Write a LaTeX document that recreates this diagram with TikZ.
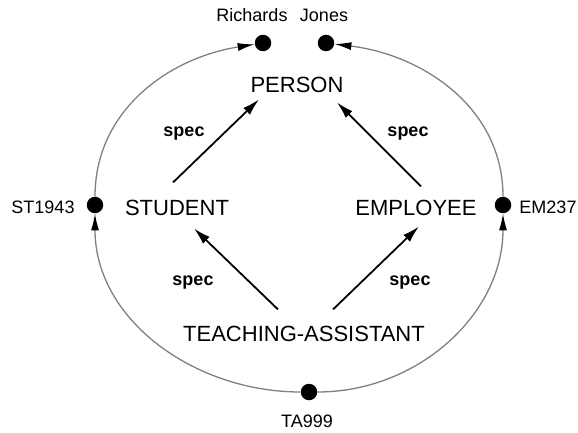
\documentclass[tikz,border=0pt]{standalone}
\usepackage{fontspec}
\setmainfont{Liberation Sans}
\usetikzlibrary{%
    shapes,%
    arrows.meta,%
    positioning,%
    calc%
}
\tikzset{
    class/.style = {inner sep = 2pt, font = \fontsize{22}{26}\selectfont},
    inst/.style = {circle, fill = black, inner sep = 0pt, minimum size = 16.5pt},
    instlabel/.style = {inner sep = 0pt, anchor = base, font = \fontsize{18}{21}\selectfont},
    speclabel/.style = {inner sep = 0pt, anchor = base, font = \fontsize{18}{21}\selectfont\bfseries},
    spec/.style = {draw = black, line width = 1.8pt, -{Latex[length = 17pt, width = 9.5pt]}},
    link/.style = {draw = black!50, line width = 1.3pt, -{Latex[black, length = 17pt, width = 8pt]}}
}

\begin{document}
\begin{tikzpicture}[x = 1pt, y = 1pt]
    \useasboundingbox (0,0) rectangle (578,432);
    % Define the classes
    \node[class, anchor = base] (person) at (297,339) {PERSON};
    \node[class, anchor = base] (student) at (177,217) {STUDENT};
    \node[class, anchor = base] (employee) at (416,217) {EMPLOYEE};
    \node[class, anchor = base] (ta) at (304,91) {TEACHING-ASSISTANT};

    % Define the instances
    \node[inst] (richards) at (263,389) {};
    \node[inst] (jones) at (326,389) {};
    \node[inst] (st1943) at (95,227) {};
    \node[inst] (em237) at (503,227) {};
    \node[inst] (ta999) at (309,40) {};

    \node[instlabel] (richardslabel) at (252,410) {Richards};
    \node[instlabel] (joneslabel) at (324,410) {Jones};
    \node[instlabel] (st1943label) at (43,219) {ST1943};
    \node[instlabel] (em237label) at (548,219) {EM237};
    \node[instlabel] (ta999label) at (307,5) {TA999};

    % Draw the specialisations
    \draw[spec] ($(student.north)+(-4,15)$) -- ($(person.south)+(-38,-4)$);
    \draw[spec] ($(employee.north)+(5,11)$) -- ($(person.south)+(40,-7)$);
    \draw[spec] ($(ta.north)+(-26,14)$) -- ($(student.south)+(17,-11)$);
    \draw[spec] ($(ta.north)+(29,14)$) -- ($(employee.south)+(3,-9)$);

    \node[speclabel] (spec1) at (184,295) {spec};
    \node[speclabel] (spec2) at (408,295) {spec};
    \node[speclabel] (spec3) at (193,147) {spec};
    \node[speclabel] (spec4) at (410,147) {spec};

    % Draw the instance links
    \draw[link] (ta999) to[out = 180, in = -90] (st1943);
    \draw[link] (st1943) to[out = 90, in = 189] (richards);
    \draw[link] (ta999) to[out = 0, in = -90] (em237);
    \draw[link] (em237) to[out = 90, in = -7] (jones);
\end{tikzpicture}
\end{document}
